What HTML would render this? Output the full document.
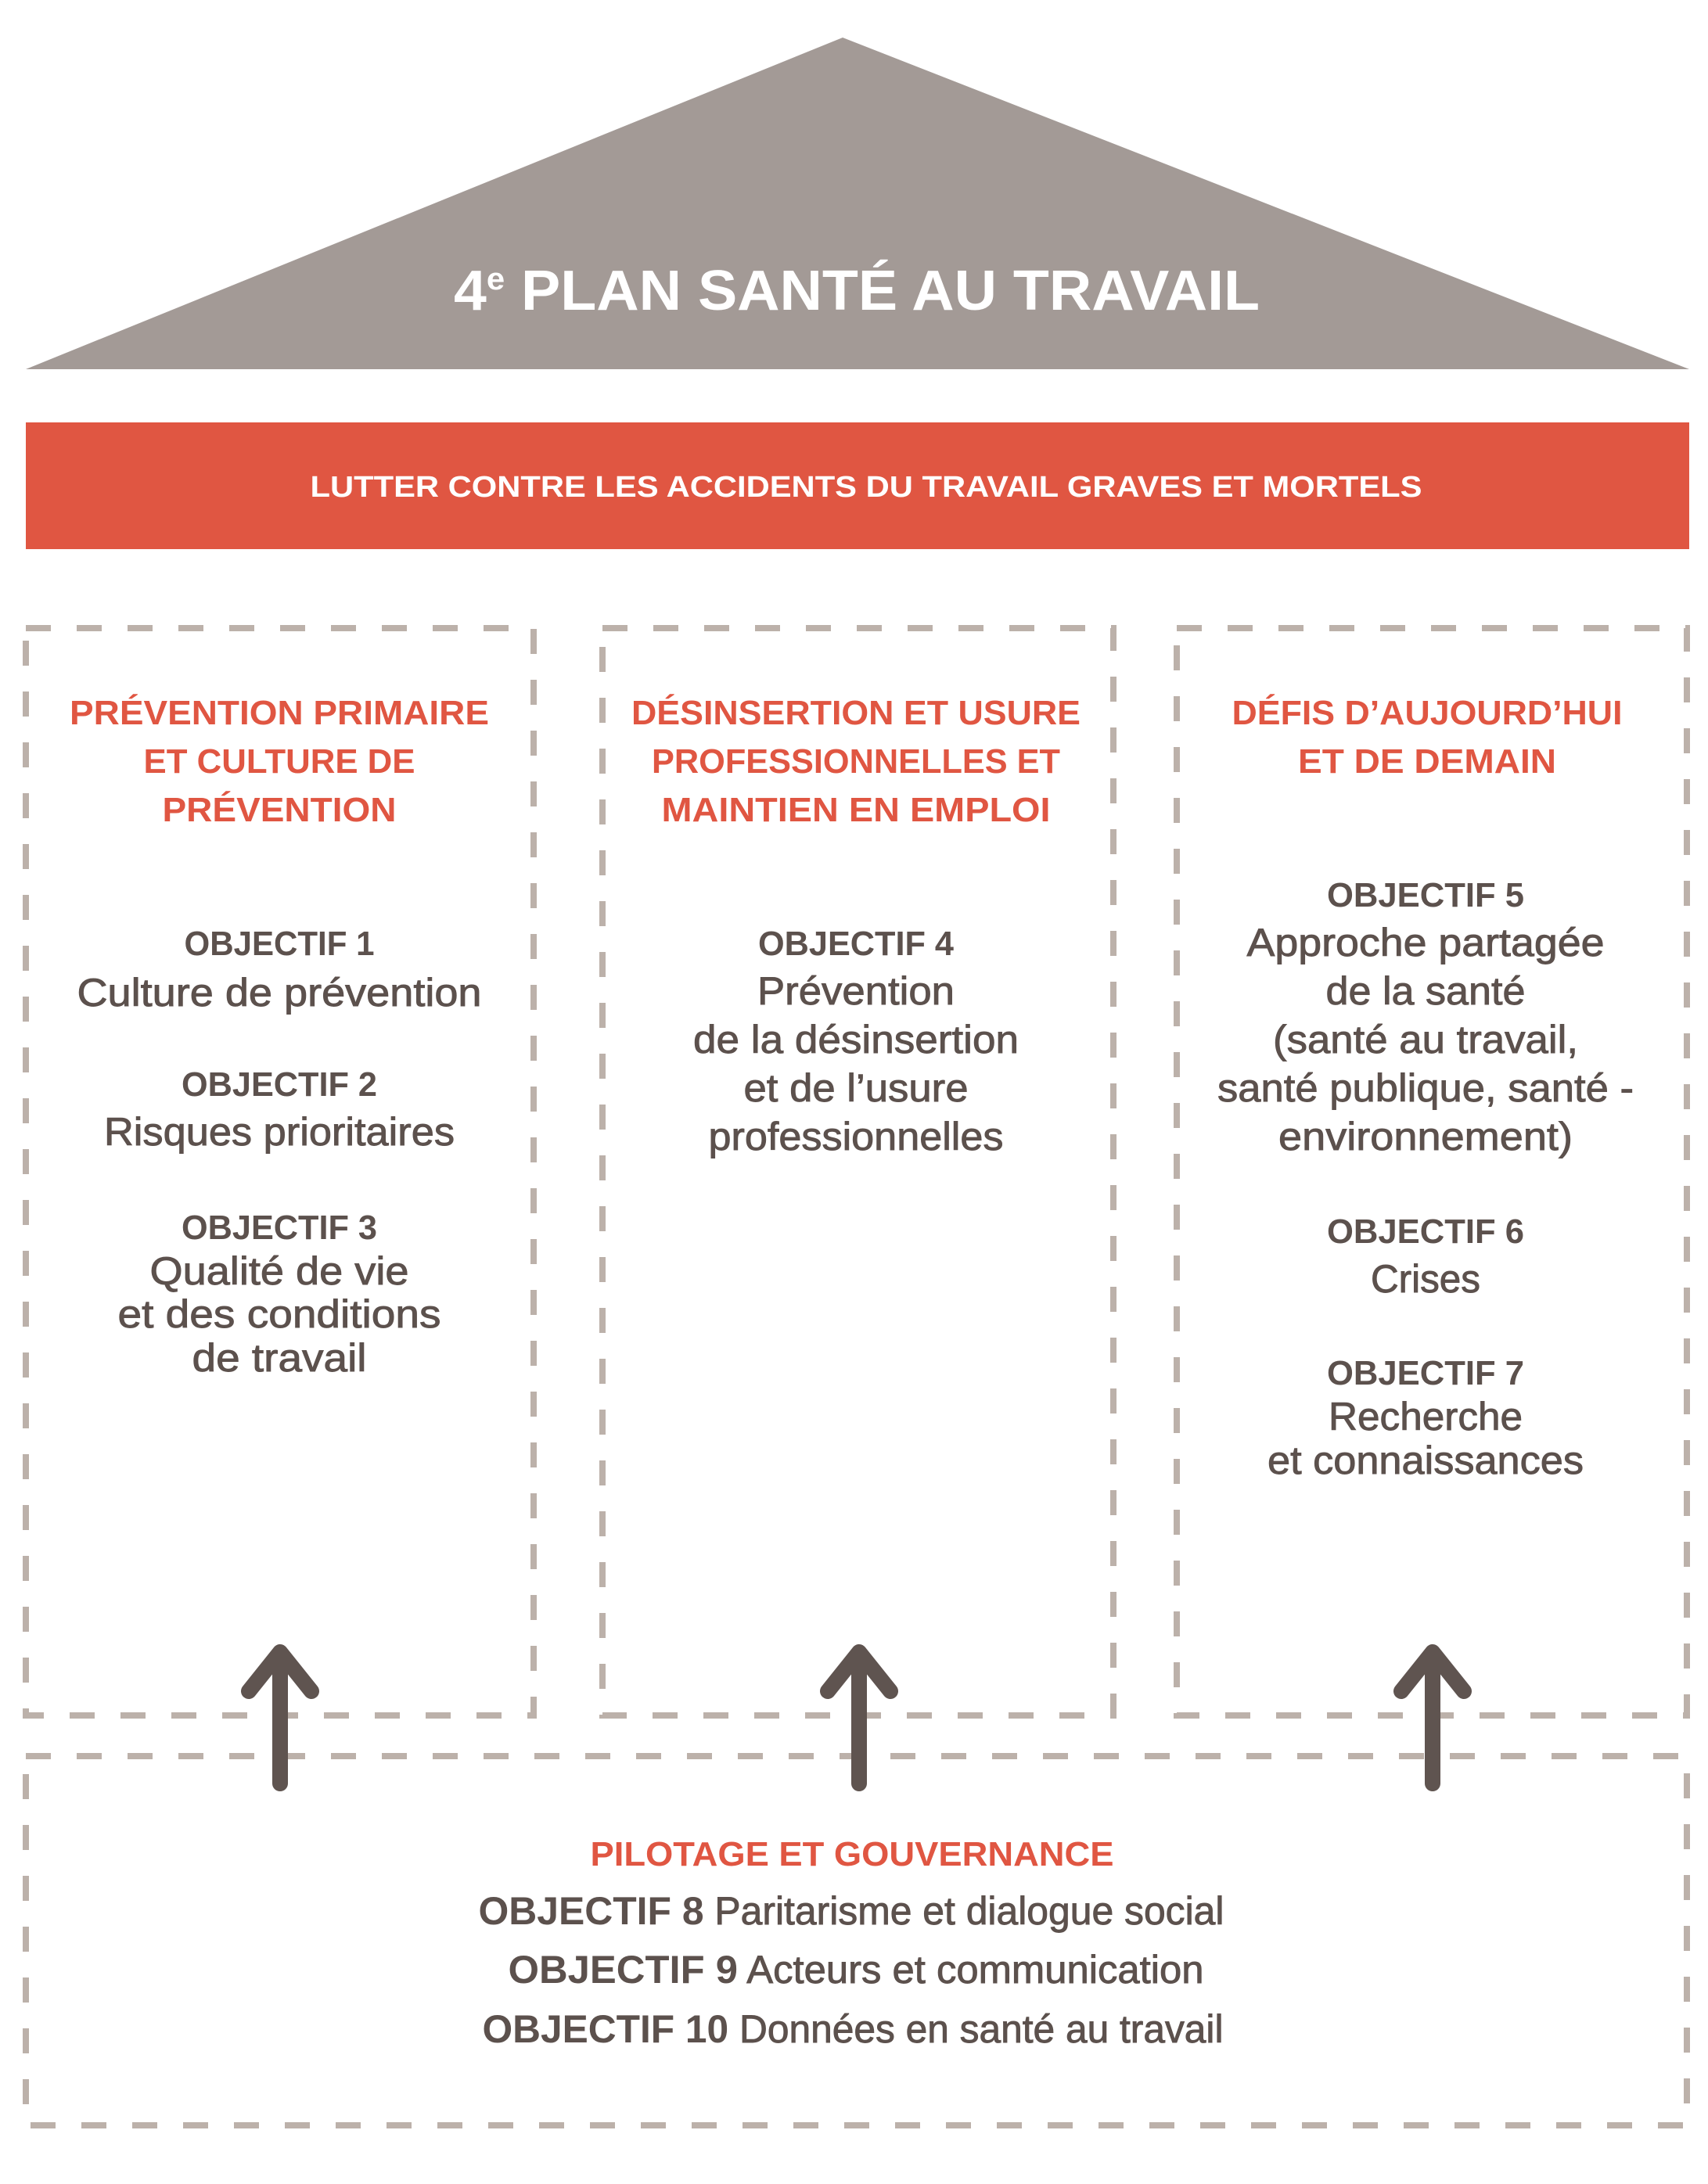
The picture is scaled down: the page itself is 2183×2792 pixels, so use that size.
<!DOCTYPE html>
<html><head><meta charset="utf-8"><style>
html,body{margin:0;padding:0;background:#fff;}
svg{display:block;}
.t{font-family:"Liberation Sans",sans-serif;text-anchor:middle;}
.h{font-weight:bold;fill:#e05642;font-size:44px;}
.o{font-weight:bold;fill:#5c514d;font-size:44px;}
.b{fill:#5c514d;font-size:50px;stroke:#5c514d;stroke-width:0.9px;}
</style></head><body>
<svg width="2183" height="2792" viewBox="0 0 2183 2792" xmlns="http://www.w3.org/2000/svg">
<polygon points="1077,48 2159,472 33,472" fill="#a39a96"/>
<text class="t" x="1095" y="396" font-size="72" font-weight="bold" fill="#fff" textLength="1030" lengthAdjust="spacingAndGlyphs">4<tspan font-size="40" dy="-26">e</tspan><tspan dy="26"> PLAN SANTÉ AU TRAVAIL</tspan></text>
<rect x="33" y="540" width="2126" height="162" fill="#e05642"/>
<text class="t" x="1107" y="635" font-size="38" font-weight="bold" fill="#fff" textLength="1421" lengthAdjust="spacingAndGlyphs">LUTTER CONTRE LES ACCIDENTS DU TRAVAIL GRAVES ET MORTELS</text>
<g fill="none" stroke="#bcb1aa" stroke-width="8" stroke-dasharray="32 33">
<rect x="33" y="803" width="649" height="1390"/>
<rect x="770" y="803" width="653" height="1390"/>
<rect x="1504" y="803" width="652" height="1390"/>
<rect x="33" y="2245" width="2123" height="472"/>
</g>
<g class="t">
<text class="h" x="357" y="926" textLength="536" lengthAdjust="spacingAndGlyphs">PRÉVENTION PRIMAIRE</text>
<text class="h" x="357" y="988" textLength="347" lengthAdjust="spacingAndGlyphs">ET CULTURE DE</text>
<text class="h" x="357" y="1050" textLength="299" lengthAdjust="spacingAndGlyphs">PRÉVENTION</text>
<text class="h" x="1094" y="926" textLength="574" lengthAdjust="spacingAndGlyphs">DÉSINSERTION ET USURE</text>
<text class="h" x="1094" y="988" textLength="522" lengthAdjust="spacingAndGlyphs">PROFESSIONNELLES ET</text>
<text class="h" x="1094" y="1050" textLength="497" lengthAdjust="spacingAndGlyphs">MAINTIEN EN EMPLOI</text>
<text class="h" x="1824" y="926" textLength="499" lengthAdjust="spacingAndGlyphs">DÉFIS D’AUJOURD’HUI</text>
<text class="h" x="1824" y="988" textLength="330" lengthAdjust="spacingAndGlyphs">ET DE DEMAIN</text>

<text class="o" x="357" y="1221" textLength="243" lengthAdjust="spacingAndGlyphs">OBJECTIF 1</text>
<text class="b" x="357" y="1286" textLength="517" lengthAdjust="spacingAndGlyphs">Culture de prévention</text>
<text class="o" x="357" y="1401" textLength="250" lengthAdjust="spacingAndGlyphs">OBJECTIF 2</text>
<text class="b" x="357" y="1464" textLength="448" lengthAdjust="spacingAndGlyphs">Risques prioritaires</text>
<text class="o" x="357" y="1584" textLength="250" lengthAdjust="spacingAndGlyphs">OBJECTIF 3</text>
<text class="b" x="357" y="1642" textLength="331" lengthAdjust="spacingAndGlyphs">Qualité de vie</text>
<text class="b" x="357" y="1697" textLength="413" lengthAdjust="spacingAndGlyphs">et des conditions</text>
<text class="b" x="357" y="1753" textLength="223" lengthAdjust="spacingAndGlyphs">de travail</text>

<text class="o" x="1094" y="1221" textLength="250" lengthAdjust="spacingAndGlyphs">OBJECTIF 4</text>
<text class="b" x="1094" y="1284" textLength="252" lengthAdjust="spacingAndGlyphs">Prévention</text>
<text class="b" x="1094" y="1346" textLength="416" lengthAdjust="spacingAndGlyphs">de la désinsertion</text>
<text class="b" x="1094" y="1408" textLength="287" lengthAdjust="spacingAndGlyphs">et de l’usure</text>
<text class="b" x="1094" y="1470" textLength="377" lengthAdjust="spacingAndGlyphs">professionnelles</text>

<text class="o" x="1822" y="1159" textLength="252" lengthAdjust="spacingAndGlyphs">OBJECTIF 5</text>
<text class="b" x="1822" y="1222" textLength="457" lengthAdjust="spacingAndGlyphs">Approche partagée</text>
<text class="b" x="1822" y="1284" textLength="255" lengthAdjust="spacingAndGlyphs">de la santé</text>
<text class="b" x="1822" y="1346" textLength="390" lengthAdjust="spacingAndGlyphs">(santé au travail,</text>
<text class="b" x="1822" y="1408" textLength="532" lengthAdjust="spacingAndGlyphs">santé publique, santé -</text>
<text class="b" x="1822" y="1470" textLength="376" lengthAdjust="spacingAndGlyphs">environnement)</text>
<text class="o" x="1822" y="1589" textLength="252" lengthAdjust="spacingAndGlyphs">OBJECTIF 6</text>
<text class="b" x="1822" y="1652" textLength="140" lengthAdjust="spacingAndGlyphs">Crises</text>
<text class="o" x="1822" y="1770" textLength="252" lengthAdjust="spacingAndGlyphs">OBJECTIF 7</text>
<text class="b" x="1822" y="1828" textLength="248" lengthAdjust="spacingAndGlyphs">Recherche</text>
<text class="b" x="1822" y="1884" textLength="404" lengthAdjust="spacingAndGlyphs">et connaissances</text>

<text class="h" x="1089" y="2385" font-size="42" textLength="669" lengthAdjust="spacingAndGlyphs">PILOTAGE ET GOUVERNANCE</text>
<text class="b" x="1088" y="2460" font-size="46" textLength="953" lengthAdjust="spacingAndGlyphs"><tspan font-weight="bold" stroke-width="0">OBJECTIF 8</tspan> Paritarisme et dialogue social</text>
<text class="b" x="1094" y="2535" font-size="46" textLength="889" lengthAdjust="spacingAndGlyphs"><tspan font-weight="bold" stroke-width="0">OBJECTIF 9</tspan> Acteurs et communication</text>
<text class="b" x="1090" y="2611" font-size="46" textLength="947" lengthAdjust="spacingAndGlyphs"><tspan font-weight="bold" stroke-width="0">OBJECTIF 10</tspan> Données en santé au travail</text>
</g>
<g fill="none" stroke="#5f5450" stroke-width="20" stroke-linecap="round" stroke-linejoin="round">
<path d="M358,2115 V2280 M318,2162 L358,2112 L398,2162"/>
<path d="M1098,2115 V2280 M1058,2162 L1098,2112 L1138,2162"/>
<path d="M1831,2115 V2280 M1791,2162 L1831,2112 L1871,2162"/>
</g>
</svg>
</body></html>
